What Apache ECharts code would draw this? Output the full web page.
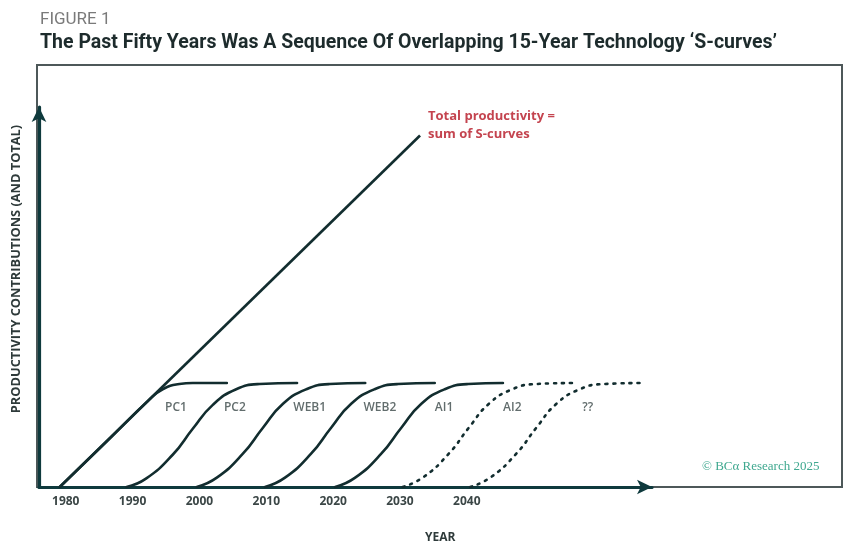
<!DOCTYPE html>
<html>
<head>
<meta charset="utf-8">
<script src="https://cdn.jsdelivr.net/npm/echarts@6/dist/echarts.min.js"></script>
<style>
html,body{margin:0;padding:0;background:#fff;}
#chart{width:848px;height:557px;}
</style>
</head>
<body>
<div id="chart"></div>
<script>
// ---- data (years on x, contribution units on y; plateau = 1) ----
const tickYears = [1980, 1990, 2000, 2010, 2020, 2030, 2040];
const totalLine = [[1979.1, 0], [2033.0, 3.38]];
const pc1 = [[1979.1,0],[1986,0.43],[1992.5,0.84],[1994.5,0.94],[1997,0.99],[1999,1],[2004.1,1]];
const pc2 = [[1989.1,0],[1992,0.08],[1996,0.31],[1999,0.56],[2002,0.79],[2005.5,0.94],[2009,0.99],[2014.6,1]];
const web1 = [[1999.6,0],[2002.6,0.09],[2006.5,0.32],[2009.5,0.57],[2012.5,0.8],[2016,0.94],[2019.5,0.99],[2024.8,1]];
const web2 = [[2009.8,0],[2012.8,0.09],[2016.7,0.32],[2019.7,0.57],[2022.7,0.8],[2026.2,0.94],[2029.7,0.99],[2035.2,1]];
const ai1 = [[2020.3,0],[2023.3,0.09],[2027.2,0.32],[2030.2,0.57],[2033.2,0.8],[2036.7,0.94],[2040.2,0.99],[2045.4,1]];
const ai2 = [[2030.4,0],[2033.4,0.09],[2037.3,0.32],[2040.3,0.57],[2043.3,0.8],[2046.8,0.94],[2050.3,0.99],[2055.9,1]];
const nextCurve = [[2040.5,0],[2043.5,0.09],[2047.4,0.32],[2050.4,0.57],[2053.4,0.8],[2056.9,0.94],[2060.4,0.99],[2066.2,1]];
const curveNames = ['PC1', 'PC2', 'WEB1', 'WEB2', 'AI1', 'AI2', '??'];
const curveLabelYears = [1996.5, 2005.3, 2016.5, 2027.0, 2036.6, 2046.8, 2058.1];
const curveLabelLevel = 0.76;

// ---- styling ----
const ink = '#122d2f';
const axisInk = '#0f3a3d';
const labelFont = 'Open Sans';

function curve(name, data, dashed) {
  return {
    name: name, type: 'line', xAxisIndex: 0, yAxisIndex: 0,
    data: data, smooth: 0.5, symbol: 'none', silent: true,
    lineStyle: { color: ink, width: 2.6, type: dashed ? [2, 6] : 'solid', cap: 'round' },
    z: 3
  };
}

const chart = echarts.init(document.getElementById('chart'), null, { renderer: 'canvas' });
chart.setOption({
  animation: false,
  backgroundColor: '#ffffff',
  title: [
    { text: 'FIGURE 1', left: 40, top: 11, padding: 0,
      textStyle: { fontFamily: 'Roboto', fontWeight: 'normal', fontSize: 17, color: '#7a7a7a' } },
    { text: 'The Past Fifty Years Was A Sequence Of Overlapping 15-Year Technology \u2018S-curves\u2019', left: 40, top: 33, padding: 0,
      textStyle: { fontFamily: 'Roboto', fontWeight: 'bold', fontSize: 19.5, color: '#1d2b2c' } },
    { text: 'Total productivity =\nsum of S-curves', left: 428, top: 107, padding: 0,
      textStyle: { fontFamily: labelFont, fontWeight: 'bold', fontSize: 13, lineHeight: 18, color: '#c4444f' } },
    { text: 'YEAR', left: 425, top: 532, padding: 0,
      textStyle: { fontFamily: labelFont, fontWeight: 'bold', fontSize: 12, color: '#2e3a3a' } },
    { text: '\u00A9 BC\u03B1 Research 2025', left: 702, top: 460, padding: 0,
      textStyle: { fontFamily: 'Liberation Serif', fontWeight: 'normal', fontSize: 13, color: '#3fa88f' } }
  ],
  grid: [
    { left: 39, right: 196, top: 107, bottom: 70, show: false, outerBoundsMode: 'none' },
    { left: 37, right: 6, top: 65, bottom: 70, show: true, borderColor: '#4d5859', borderWidth: 2,
      backgroundColor: 'transparent', z: 0, outerBoundsMode: 'none' }
  ],
  xAxis: [
    { type: 'value', gridIndex: 0, min: 1976, max: 2067.7,
      axisLine: { show: true, symbol: ['none', 'arrow'], symbolSize: [11, 15],
        lineStyle: { color: axisInk, width: 3.2 } },
      axisTick: { show: false }, splitLine: { show: false },
      axisLabel: { customValues: tickYears, formatter: v => String(v), margin: 9,
        fontFamily: labelFont, fontWeight: 'bold', fontSize: 12, color: '#3b4646' } },
    { type: 'value', gridIndex: 1, min: 0, max: 1, show: false }
  ],
  yAxis: [
    { type: 'value', gridIndex: 0, min: 0, max: 3.654,
      axisLine: { show: true, symbol: ['none', 'arrow'], symbolSize: [11, 15],
        lineStyle: { color: axisInk, width: 3.2 } },
      axisTick: { show: false }, splitLine: { show: false }, axisLabel: { show: false } },
    { type: 'value', gridIndex: 1, min: 0, max: 1,
      axisLine: { show: false }, axisTick: { show: false }, splitLine: { show: false }, axisLabel: { show: false },
      name: 'PRODUCTIVITY CONTRIBUTIONS (AND TOTAL)', nameLocation: 'middle', nameRotate: 90, nameGap: 14,
      nameTextStyle: { fontFamily: labelFont, fontWeight: 'bold', fontSize: 12.8, color: '#2e3a3a',
        padding: [0, 0, 0, 14] } }
  ],
  series: [
    { name: 'Total', type: 'line', data: totalLine, symbol: 'none', silent: true,
      lineStyle: { color: ink, width: 2.6 }, z: 3 },
    curve('PC1', pc1, false),
    curve('PC2', pc2, false),
    curve('WEB1', web1, false),
    curve('WEB2', web2, false),
    curve('AI1', ai1, false),
    curve('AI2', ai2, true),
    curve('??', nextCurve, true),
    { name: 'labels', type: 'scatter', symbolSize: 0, silent: true,
      data: curveNames.map((n, i) => ({ name: n, value: [curveLabelYears[i], curveLabelLevel] })),
      label: { show: true, position: 'inside', formatter: p => p.name,
        fontFamily: labelFont, fontWeight: 600, fontSize: 12, color: '#3b4848' }, z: 4 }
  ]
});
</script>
</body>
</html>
